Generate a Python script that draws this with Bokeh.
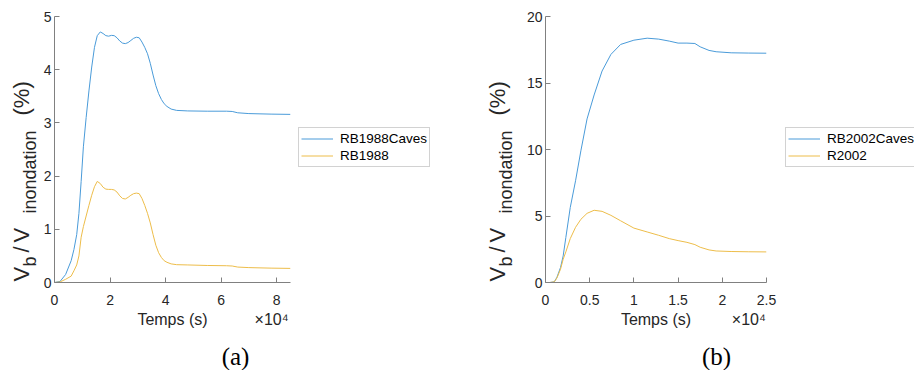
from math import pi
from bokeh.plotting import figure
from bokeh.layouts import row, column
from bokeh.models import (Range1d, FixedTicker, CustomJSTickFormatter, Legend, LegendItem, Label,
                          LinearAxis)
from bokeh.embed import file_html
from bokeh.resources import INLINE

# ---------------- data ----------------
a_time = [0, 2000, 4000, 6000, 7000, 8000, 8800, 9600, 10400, 11400, 12400, 13400, 14400, 15400,
          16500, 17500, 18500, 19500, 20500, 21500, 22500, 23500, 24500, 25500, 26500, 27500,
          28500, 29500, 30500, 31500, 32500, 33500, 34500, 35500, 36500, 37500, 38500, 39500,
          40500, 42000, 44000, 48000, 55000, 62000, 64000, 66000, 70000, 78000, 85000]
a_rb1988caves = [0, 0.02, 0.15, 0.41, 0.62, 0.9, 1.3, 1.9, 2.55, 3.1, 3.6, 4.05, 4.42, 4.64,
                 4.71, 4.68, 4.64, 4.63, 4.645, 4.64, 4.6, 4.54, 4.5, 4.49, 4.51, 4.55,
                 4.59, 4.61, 4.6, 4.52, 4.42, 4.3, 4.12, 3.9, 3.7, 3.55, 3.44, 3.36,
                 3.31, 3.26, 3.235, 3.225, 3.22, 3.22, 3.215, 3.19, 3.175, 3.165, 3.16]
a_rb1988 = [0, 0.01, 0.06, 0.12, 0.22, 0.33, 0.5, 0.85, 1.05, 1.25, 1.45, 1.64, 1.8, 1.9,
            1.86, 1.79, 1.755, 1.75, 1.75, 1.74, 1.7, 1.63, 1.58, 1.57, 1.6, 1.64,
            1.67, 1.68, 1.67, 1.58, 1.45, 1.3, 1.12, 0.9, 0.7, 0.56, 0.47, 0.41,
            0.38, 0.35, 0.335, 0.33, 0.32, 0.315, 0.31, 0.29, 0.28, 0.27, 0.265]

b_time = [0, 500, 1000, 1300, 1700, 2000, 2300, 2800, 3400, 4000, 4700, 5500, 6400, 7400,
          8500, 10000, 11500, 12800, 14000, 15000, 16000, 16900, 17500, 18500, 19300, 21000,
          23000, 25000]
b_rb2002caves = [0, 0, 0.05, 0.4, 1.13, 2.0, 3.38, 5.64, 7.65, 9.9, 12.3, 14.1, 15.9, 17.15,
                 17.9, 18.22, 18.37, 18.3, 18.15, 18.0, 18.0, 17.97, 17.72, 17.45, 17.35, 17.27,
                 17.25, 17.24]
b_r2002 = [0, 0, 0.05, 0.35, 1.0, 1.75, 2.3, 3.3, 4.15, 4.75, 5.2, 5.43, 5.35, 5.05,
           4.64, 4.09, 3.8, 3.55, 3.3, 3.15, 3.02, 2.85, 2.65, 2.45, 2.37, 2.33,
           2.31, 2.3]

a_xticks = [0, 20000, 40000, 60000, 80000]
a_yticks = [0, 1, 2, 3, 4, 5]
b_xticks = [0, 5000, 10000, 15000, 20000, 25000]
b_yticks = [0, 5, 10, 15, 20]

a_labels = ["RB1988Caves", "RB1988"]
b_labels = ["RB2002Caves", "R2002"]
x_title = "Temps (s)"
x_mult = "\u00d710\u2074"
captions = ["(a)", "(b)"]

BLUE = "#4A9BD9"
YELLOW = "#EDBD4A"
FONT = "Liberation Sans"
TXT = "#262626"
AX = "#808080"
H = 340
TOP = 16
FRAME_H = 266
BOTTOM = H - TOP - FRAME_H
NAN = float("nan")


def blank(width, height, top=0, bottom=0):
    f = figure(width=width, height=height, output_backend="svg", toolbar_location=None,
               x_range=Range1d(0, 1), y_range=Range1d(0, 1),
               min_border_left=0, min_border_right=0, min_border_top=top,
               min_border_bottom=bottom, x_axis_location=None, y_axis_location=None)
    f.outline_line_color = None
    f.grid.visible = False
    return f


def ylabel_fig(width, main_x, sub_x):
    # screen pixels relative to the frame (frame rows match the plots)
    f = blank(width, H, TOP, BOTTOM)
    pieces = [("V", main_x, 1, "22px"), ("b", sub_x, 16, "18px"), ("/", main_x, 30, "22px"),
              ("V", main_x, 40, "22px"), ("inondation", sub_x, 69, "18px"),
              ("(%)", main_x, 167, "22px")]
    for txt, x, y, fs in pieces:
        f.add_layout(Label(x=x, y=y, x_units="screen", y_units="screen", text=txt,
                           angle=pi / 2, text_align="left", text_baseline="middle",
                           text_font=FONT, text_font_size=fs, text_color=TXT))
    return f


def legend_fig(width, labels, leg_x):
    f = blank(width, H, TOP, BOTTOM)
    r1 = f.line([NAN], [NAN], line_color=BLUE, line_width=1)
    r2 = f.line([NAN], [NAN], line_color=YELLOW, line_width=1)
    leg = Legend(items=[LegendItem(label=labels[0], renderers=[r1]),
                        LegendItem(label=labels[1], renderers=[r2])],
                 location=(leg_x, 115))
    leg.border_line_color = "#a6a6a6"
    leg.border_line_width = 1
    leg.background_fill_color = "white"
    leg.padding = 2
    leg.spacing = 0
    leg.margin = 0
    leg.label_height = 17
    leg.glyph_height = 17
    leg.glyph_width = 32
    leg.label_standoff = 7
    leg.label_text_font = FONT
    leg.label_text_font_size = "13.5px"
    leg.label_text_color = "black"
    f.add_layout(leg, "center")
    return f


def make(width, left, frame_w, xr, yr, xticks, yticks, t, s1, s2):
    p = figure(width=width, height=H, output_backend="svg", toolbar_location=None,
               x_range=Range1d(*xr), y_range=Range1d(*yr),
               min_border_left=left, min_border_right=width - left - frame_w,
               min_border_top=TOP, min_border_bottom=BOTTOM)
    p.outline_line_color = None
    p.grid.visible = False

    p.line(t, s1, line_color=BLUE, line_width=1)
    p.line(t, s2, line_color=YELLOW, line_width=1)

    for ax in (p.xaxis[0], p.yaxis[0]):
        ax.axis_line_color = AX
        ax.major_tick_line_color = AX
        ax.minor_tick_line_color = None
        ax.major_tick_in = 5
        ax.major_tick_out = 0
        ax.major_label_text_font = FONT
        ax.major_label_text_font_size = "14px"
        ax.major_label_text_color = TXT

    p.xaxis.ticker = FixedTicker(ticks=xticks)
    p.yaxis.ticker = FixedTicker(ticks=yticks)
    p.xaxis.formatter = CustomJSTickFormatter(code="return (tick/1e4).toString()")
    p.xaxis.major_label_standoff = 12
    p.yaxis.major_label_standoff = 3

    # label-only axis carrying the axis title and the x10^4 multiplier
    mid = int((xr[0] + xr[1]) / 2)
    mult = int(xr[1] * 0.92)
    ax2 = LinearAxis(ticker=FixedTicker(ticks=[mid, mult]),
                     major_label_overrides={mid: x_title, mult: x_mult})
    ax2.axis_line_color = None
    ax2.major_tick_line_color = None
    ax2.minor_tick_line_color = None
    ax2.major_label_standoff = -3
    ax2.major_label_text_font = FONT
    ax2.major_label_text_font_size = "16px"
    ax2.major_label_text_color = TXT
    p.add_layout(ax2, "below")
    return p


ya = ylabel_fig(40, 21, 29)
pa = make(252, 13, 237, (0, 85000), (0, 5), a_xticks, a_yticks, a_time, a_rb1988caves, a_rb1988)
la = legend_fig(168, a_labels, 6)
yb = ylabel_fig(62, 37, 45)
pb = make(258, 23, 221, (0, 25000), (0, 20), b_xticks, b_yticks, b_time, b_rb2002caves, b_r2002)
lb = legend_fig(134, b_labels, 5)

strip = blank(914, 30)
for cap, cx in zip(captions, [235, 716]):
    strip.add_layout(Label(x=cx, y=14, x_units="screen", y_units="screen", text=cap,
                           text_align="center", text_baseline="middle",
                           text_font="Liberation Serif", text_font_size="25px",
                           text_color="black"))

lay = column(row(ya, pa, la, yb, pb, lb), strip)
open("out.html", "w").write(file_html(lay, INLINE))
